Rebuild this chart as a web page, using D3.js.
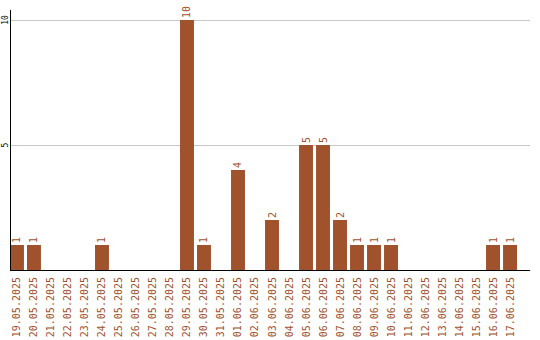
<!DOCTYPE html>
<html>
<head>
<meta charset="utf-8">
<script src="https://cdn.jsdelivr.net/npm/d3@7"></script>
<style>
  body { margin: 0; background: #fff; }
  svg text { font-family: "DejaVu Sans Mono", monospace; }
</style>
</head>
<body>
<svg id="chart" width="540" height="340"></svg>
<script>
'use strict'
// days on the x axis
const days = ['19.05.2025', '20.05.2025', '21.05.2025', '22.05.2025', '23.05.2025',
  '24.05.2025', '25.05.2025', '26.05.2025', '27.05.2025', '28.05.2025',
  '29.05.2025', '30.05.2025', '31.05.2025', '01.06.2025', '02.06.2025',
  '03.06.2025', '04.06.2025', '05.06.2025', '06.06.2025', '07.06.2025',
  '08.06.2025', '09.06.2025', '10.06.2025', '11.06.2025', '12.06.2025',
  '13.06.2025', '14.06.2025', '15.06.2025', '16.06.2025', '17.06.2025']
// count per day
const counts = [1, 1, 0, 0, 0, 1, 0, 0, 0, 0,
  10, 1, 0, 4, 0, 2, 0, 5, 5, 2,
  1, 1, 1, 0, 0, 0, 0, 0, 1, 1]
const yTicks = [5, 10]

const brown = '#a0522d'
const mLeft = 10, mRight = 530, mTop = 10, mBottom = 270

const svg = d3.select('#chart')

const x = d3.scaleBand()
  .domain(days)
  .range([mLeft, 517])
  .paddingInner(0.18)
  .paddingOuter(0)

const y = d3.scaleLinear()
  .domain([0, 10.4])
  .range([mBottom, mTop])

// grid
svg.append('g')
  .selectAll('line')
  .data(yTicks)
  .enter().append('line')
  .attr('x1', mLeft)
  .attr('x2', mRight)
  .attr('y1', d => Math.round(y(d)) + 0.5)
  .attr('y2', d => Math.round(y(d)) + 0.5)
  .attr('stroke', '#c8c8c8')

// y tick labels, turned
svg.append('g')
  .selectAll('text')
  .data(yTicks)
  .enter().append('text')
  .attr('transform', d => 'translate(' + [8, y(d)] + ') rotate(-90)')
  .attr('text-anchor', 'middle')
  .attr('font-size', 8)
  .attr('fill', '#000')
  .text(d => d)

const data = days.map((d, i) => ({day: d, n: counts[i]}))
const shown = data.filter(d => d.n > 0)

// bars
svg.append('g')
  .selectAll('rect')
  .data(shown)
  .enter().append('rect')
  .attr('x', d => x(d.day))
  .attr('y', d => y(d.n))
  .attr('width', x.bandwidth())
  .attr('height', d => mBottom - y(d.n))
  .attr('fill', brown)

// values above bars
svg.append('g')
  .selectAll('text')
  .data(shown)
  .enter().append('text')
  .attr('transform', d => 'translate(' + [x(d.day) + x.bandwidth() / 2 + 3.5, y(d.n) - 2] + ') rotate(-90)')
  .attr('font-size', 10)
  .attr('fill', brown)
  .text(d => d.n)

// axes lines
svg.append('line')
  .attr('x1', mLeft + 0.5).attr('x2', mLeft + 0.5)
  .attr('y1', mTop).attr('y2', mBottom)
  .attr('stroke', '#000')
svg.append('line')
  .attr('x1', mLeft).attr('x2', mRight)
  .attr('y1', mBottom + 0.5).attr('y2', mBottom + 0.5)
  .attr('stroke', '#000')

// day labels
svg.append('g')
  .selectAll('text')
  .data(days)
  .enter().append('text')
  .attr('transform', d => 'translate(' + [x(d) + x.bandwidth() / 2 + 3.5, mBottom + 7] + ') rotate(-90)')
  .attr('text-anchor', 'end')
  .attr('font-size', 10)
  .attr('fill', brown)
  .text(d => d)
</script>
</body>
</html>
